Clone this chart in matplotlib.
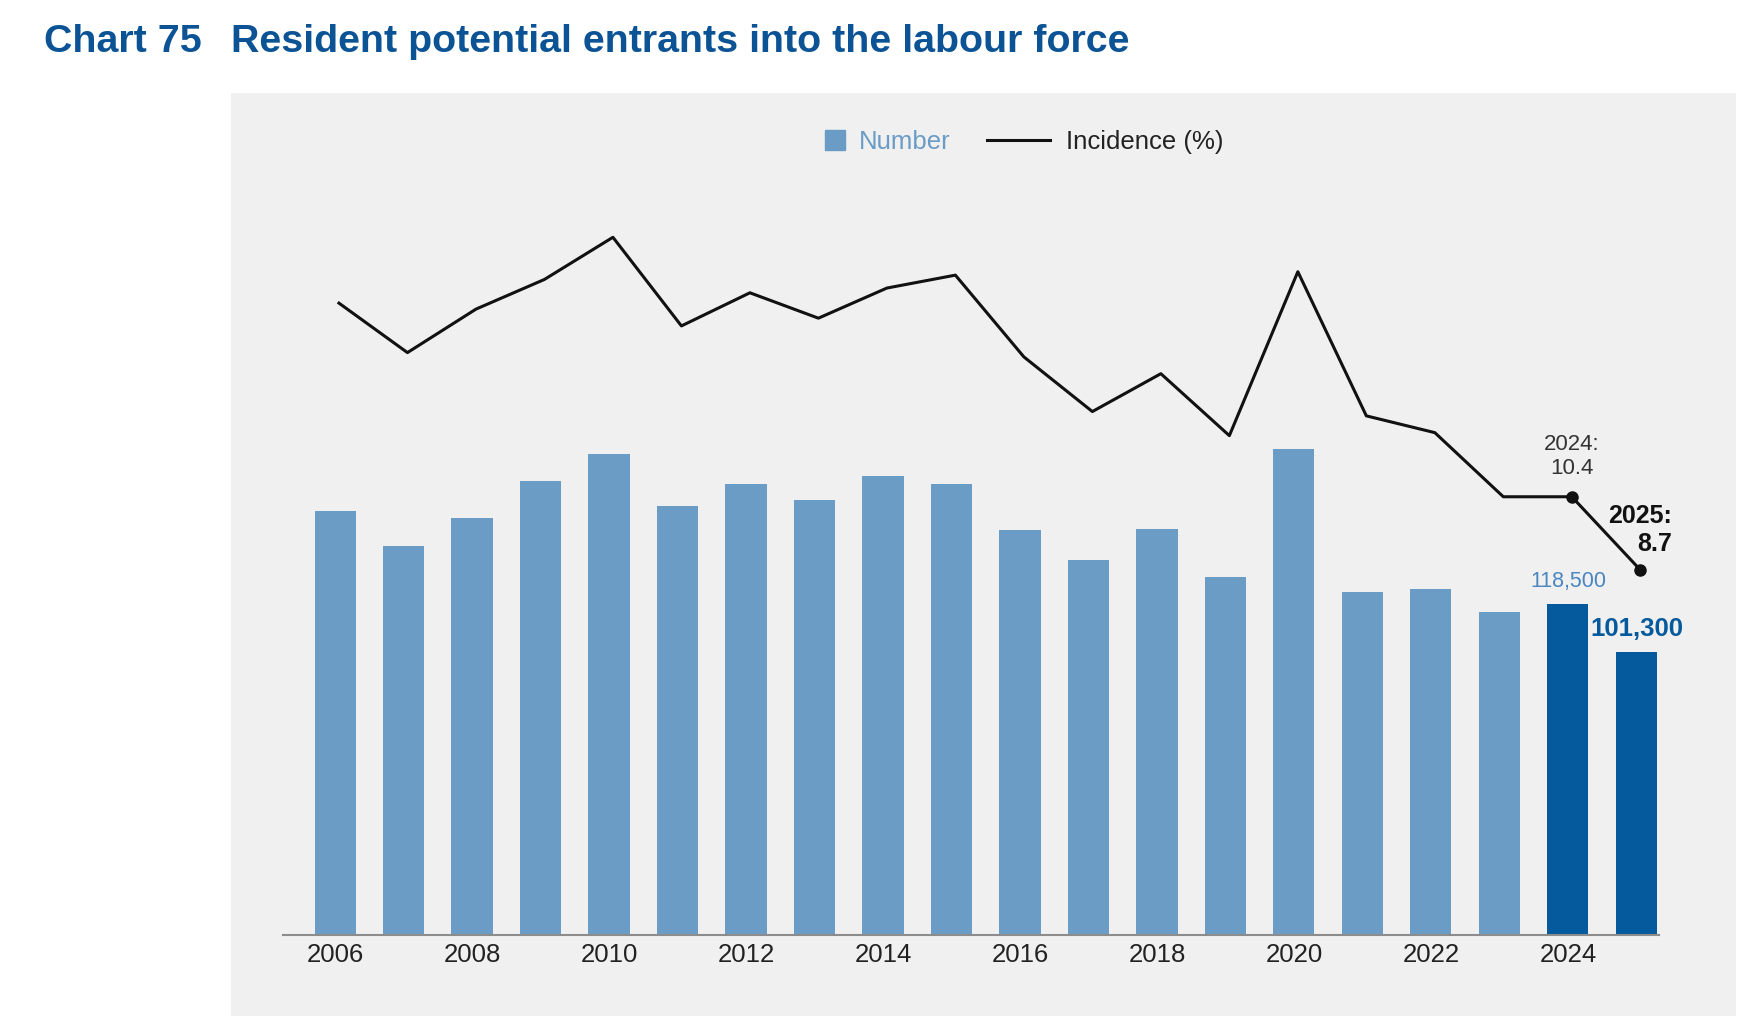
import matplotlib.pyplot as plt
from matplotlib.patches import Rectangle
from matplotlib.lines import Line2D

plt.rcParams['font.family'] = ['Liberation Sans', 'DejaVu Sans']

years = list(range(2006, 2026))
number = [151700, 139300, 149300, 162400, 172300, 153600, 161600, 155600, 164400, 161600,
          144900, 134200, 145300, 128200, 173900, 122700, 123900, 115500, 118500, 101300]
incidence = [14.9, 13.75, 14.76, 15.45, 16.43, 14.37, 15.14, 14.55, 15.25, 15.55,
             13.65, 12.38, 13.26, 11.82, 15.63, 12.28, 11.89, 10.4, 10.4, 8.7]
tick_years = list(range(2006, 2026, 2))

light = '#6a9cc6'
dark = '#045a9c'
title_col = '#0b5394'

fig = plt.figure(figsize=(17.39, 10.16), dpi=100)

# grey panel behind the chart
fig.patches.append(Rectangle((231 / 1739, 0), (1736 - 231) / 1739, (1016 - 93) / 1016,
                             transform=fig.transFigure, facecolor='#f0f0f0',
                             edgecolor='none', zorder=-10))

fig.text(44 / 1739, 1 - 42 / 1016, 'Chart 75', va='center', ha='left',
         fontsize=28.4, fontweight='bold', color=title_col)
fig.text(231 / 1739, 1 - 42 / 1016, 'Resident potential entrants into the labour force',
         va='center', ha='left', fontsize=28.4, fontweight='bold', color=title_col)

rect = [283 / 1739, 81 / 1016, 1376 / 1739, 835 / 1016]
ax = fig.add_axes(rect)
ax.set_facecolor('none')
colors = [light] * (len(years) - 2) + [dark] * 2
ax.bar(years, number, width=0.6, color=colors, zorder=2)
ax.set_xlim(2005.24, 2025.33)
ax.set_ylim(0, 299000)
for s in ['left', 'right', 'top']:
    ax.spines[s].set_visible(False)
ax.spines['bottom'].set_color('#8c8c8c')
ax.spines['bottom'].set_linewidth(1.5)
ax.set_yticks([])
ax.set_xticks(tick_years)
ax.tick_params(axis='x', length=0, labelsize=18.5, labelcolor='#222222', pad=6)

ax.annotate(f'{number[-2]:,}', (years[-2], number[-2]), xytext=(0, 16.6),
            textcoords='offset points', ha='center', va='center',
            fontsize=15.5, color='#4a86c0')
ax.annotate(f'{number[-1]:,}', (years[-1], number[-1]), xytext=(0, 16.6),
            textcoords='offset points', ha='center', va='center',
            fontsize=18.5, fontweight='bold', color=dark)

# incidence on its own overlaid axes (line sits a touch right of bar centres)
ax2 = fig.add_axes(rect)
ax2.set_xlim(2005.24 - 0.057, 2025.33 - 0.057)
ax2.set_ylim(0.216, 19.62)
ax2.axis('off')
ax2.plot(years, incidence, color='#111111', lw=2.2, zorder=3)
ax2.plot(years[-2:], incidence[-2:], 'o', color='#111111', ms=8, zorder=4)
ax2.annotate(f'{years[-2]}:\n{incidence[-2]}', (years[-2], incidence[-2]), xytext=(0, 28.8),
             textcoords='offset points', ha='center', va='center',
             fontsize=16, color='#333333')
ax2.annotate(f'{years[-1]}:\n{incidence[-1]}', (years[-1], incidence[-1]), xytext=(23, 29),
             textcoords='offset points', ha='right', va='center', multialignment='right',
             fontsize=18, fontweight='bold', color='#111111')

h1 = Line2D([], [], marker='s', ls='none', color=light, ms=15)
leg1 = fig.legend([h1], ['Number'], loc='center left', bbox_to_anchor=(825 / 1739, 0.860),
                  frameon=False, fontsize=18.5, handlelength=0.8, handletextpad=0.5,
                  borderpad=0, borderaxespad=0, labelcolor=light)
h2 = Line2D([], [], color='#111111', lw=2.2)
leg2 = fig.legend([h2], ['Incidence (%)'], loc='center left', bbox_to_anchor=(987 / 1739, 0.860),
                  frameon=False, fontsize=18.5, handlelength=2.46, handletextpad=0.6,
                  borderpad=0, borderaxespad=0, labelcolor='#222222')

fig.savefig('out.png', dpi=100)
